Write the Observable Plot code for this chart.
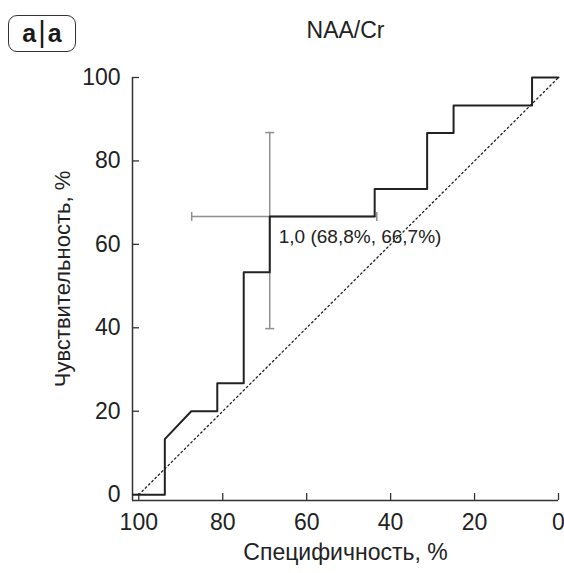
<!DOCTYPE html>
<html>
<head>
<meta charset="utf-8">
<script src="https://cdn.jsdelivr.net/npm/d3@7"></script>
<script src="https://cdn.jsdelivr.net/npm/@observablehq/plot@0.6"></script>
<style>
  body { margin: 0; background: white; }
  #fig { position: relative; width: 564px; height: 573px; font-family: "Liberation Sans", Arial, sans-serif; }
  #panel {
    position: absolute; left: 8px; top: 15px; width: 66px; height: 35px;
    border: 1.6px solid #333; border-radius: 9px;
    display: flex; align-items: center; justify-content: center;
    font-weight: bold; font-size: 25px; color: #1a1a1a; line-height: 1;
  }
  #panel .sep { font-weight: normal; font-size: 29px; margin: 0 2px; position: relative; top: -1px; }
</style>
</head>
<body>
<div id="fig">
  <div id="panel"><span>a</span><span class="sep">|</span><span>a</span></div>
</div>
<script>
// ROC curve for NAA/Cr: specificity (x, reversed) vs sensitivity (y), in %
const title = "NAA/Cr";
const specificity = [100, 93.8, 93.8, 87.5, 81.3, 81.3, 75, 75, 68.8, 68.8, 43.8, 43.8, 31.3, 31.3, 25, 25, 6.3, 6.3, 0];
const sensitivity = [0, 0, 13.3, 20, 20, 26.7, 26.7, 53.3, 53.3, 66.7, 66.7, 73.3, 73.3, 86.7, 86.7, 93.3, 93.3, 100, 100];

// reference (chance) diagonal
const chanceSpec = [100, 0];
const chanceSens = [0, 100];

// optimal cut-off with its confidence intervals
const cutoffLabel = "1,0";
const cutoffSpec = 68.8;
const cutoffSens = 66.7;
const specCI = [87.4, 43.3];
const sensCI = [39.8, 86.8];

const xTicks = [100, 80, 60, 40, 20, 0];
const yTicks = [0, 20, 40, 60, 80, 100];
const xLabel = "Специфичность, %";
const yLabel = "Чувствительность, %";

const xDomain = [101.5, 0];
const yDomain = [-1.4, 100];

const curve = specificity.map((s, i) => ({spec: s, sens: sensitivity[i]}));
const chance = chanceSpec.map((s, i) => ({spec: s, sens: chanceSens[i]}));
const fmt = v => String(v).replace(".", ",");
const cutoffText = `${cutoffLabel} (${fmt(cutoffSpec)}%, ${fmt(cutoffSens)}%)`;

// short bar used as error-bar caps
const capV = {draw(ctx, size) { const r = Math.sqrt(size / Math.PI); ctx.moveTo(0, -r); ctx.lineTo(0, r); }};
const capH = {draw(ctx, size) { const r = Math.sqrt(size / Math.PI); ctx.moveTo(-r, 0); ctx.lineTo(r, 0); }};

const ink = "#222";
const grey = "#8f8f8f";

const chart = Plot.plot({
  width: 564,
  height: 573,
  marginTop: 77,
  marginRight: 6,
  marginBottom: 73,
  marginLeft: 132,
  style: {fontFamily: "'Liberation Sans', Arial, sans-serif", color: ink, background: "white", overflow: "visible"},
  x: {domain: xDomain},
  y: {domain: yDomain},
  marks: [
    // axis lines
    Plot.ruleX([xDomain[0]], {y1: yDomain[0], y2: yDomain[1], stroke: "#333", strokeWidth: 1.5}),
    Plot.ruleY([yDomain[0]], {x1: xDomain[0], x2: xDomain[1], stroke: "#333", strokeWidth: 1.5}),
    // inward tick marks
    Plot.axisX({ticks: xTicks, tickSize: 7, dy: -7, tickFormat: () => "", label: null, stroke: "#333", strokeWidth: 1.3}),
    Plot.axisY({ticks: yTicks, tickSize: 7, dx: 7, tickFormat: () => "", label: null, stroke: "#333", strokeWidth: 1.3}),
    // tick labels
    Plot.axisX({ticks: xTicks, tickSize: 0, tickPadding: 13, fontSize: 23, label: null}),
    Plot.axisY({ticks: yTicks, tickSize: 0, tickPadding: 12, fontSize: 23, label: null}),
    // axis titles and chart title
    Plot.text([xLabel], {frameAnchor: "bottom", lineAnchor: "middle", dy: 52, fontSize: 23, text: d => d}),
    Plot.text([yLabel], {frameAnchor: "left", textAnchor: "middle", dx: -70, dy: -10, rotate: -90, fontSize: 22, text: d => d}),
    Plot.text([title], {frameAnchor: "top", lineAnchor: "middle", dy: -47, fontSize: 23, text: d => d}),
    // chance diagonal
    Plot.line(chance, {x: "spec", y: "sens", stroke: ink, strokeWidth: 1.3, strokeDasharray: "1.6,3"}),
    // confidence intervals at the cut-off
    Plot.ruleY([cutoffSens], {x1: specCI[0], x2: specCI[1], stroke: grey, strokeWidth: 1.5}),
    Plot.ruleX([cutoffSpec], {y1: sensCI[0], y2: sensCI[1], stroke: grey, strokeWidth: 1.5}),
    Plot.dot(specCI, {x: d => d, y: () => cutoffSens, symbol: capV, r: 4.5, stroke: grey, strokeWidth: 1.5, fill: "none"}),
    Plot.dot(sensCI, {x: () => cutoffSpec, y: d => d, symbol: capH, r: 4.5, stroke: grey, strokeWidth: 1.5, fill: "none"}),
    // ROC curve
    Plot.ruleY([sensitivity[0]], {x1: xDomain[0], x2: specificity[0], stroke: ink, strokeWidth: 2}),
    Plot.line(curve, {x: "spec", y: "sens", stroke: ink, strokeWidth: 2}),
    // cut-off annotation
    Plot.text([cutoffText], {x: () => cutoffSpec, y: () => cutoffSens, dx: 9, dy: 20, textAnchor: "start", fontSize: 19, text: d => d})
  ]
});

document.getElementById("fig").prepend(chart);
</script>
</body>
</html>
